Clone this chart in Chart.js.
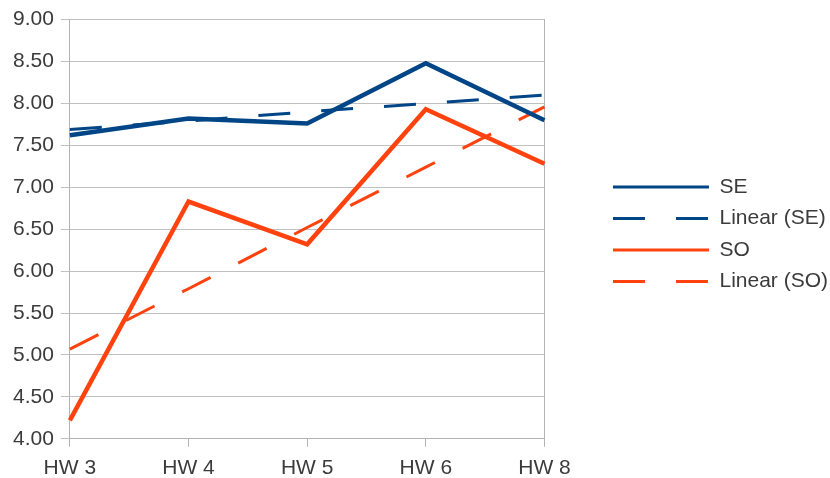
<!DOCTYPE html>
<html>
<head>
<meta charset="utf-8">
<script src="https://cdn.jsdelivr.net/npm/chart.js@4/dist/chart.umd.min.js"></script>
<style>
  html, body { margin: 0; padding: 0; background: #fff; }
  #wrap { width: 830px; height: 478px; }
</style>
</head>
<body>
<div id="wrap"><canvas id="hwChart"></canvas></div>
<script>
// Homework scores per assignment
const categories = ["HW 3", "HW 4", "HW 5", "HW 6", "HW 8"];
const seScores = [7.62, 7.82, 7.76, 8.48, 7.80];
const soScores = [4.22, 6.83, 6.32, 7.93, 7.28];
// Linear trend lines, one value per assignment
const seTrend = [7.69, 7.79, 7.90, 8.00, 8.10];
const soTrend = [5.07, 5.79, 6.52, 7.24, 7.96];
const yTicks = { min: 4, max: 9, step: 0.5 };

const blue = "#004586";
const orange = "#ff420e";
const gridGray = "#c0c0c0";
const axisGray = "#b3b3b3";
const textGray = "#3b3b3b";

Chart.defaults.font.family = "'Liberation Sans', Arial, sans-serif";
Chart.defaults.font.size = 21;
Chart.defaults.color = textGray;

// keep the legend centred on the plot area instead of the whole canvas
const legendAlign = {
  id: "legendAlign",
  afterLayout(chart) {
    const legend = chart.legend;
    if (!legend) return;
    legend.top = chart.chartArea.top;
    legend.bottom = chart.chartArea.bottom + 10;
  },
};

// legend samples take the dash pattern of their dataset line, all drawn 3px wide
function dashedLegendLabels(chart) {
  const items = Chart.defaults.plugins.legend.labels.generateLabels(chart);
  return items.map((item) => {
    const ds = chart.data.datasets[item.datasetIndex];
    item.lineDash = ds.borderDash || [];
    item.lineWidth = 3;
    return item;
  });
}

const ctx = document.getElementById("hwChart").getContext("2d");
new Chart(ctx, {
  type: "line",
  data: {
    labels: categories,
    datasets: [
      { label: "SE", data: seScores, borderColor: blue, borderWidth: 4.5 },
      { label: "Linear (SE)", data: seTrend, borderColor: blue, borderWidth: 3, borderDash: [32, 31] },
      { label: "SO", data: soScores, borderColor: orange, borderWidth: 4.5 },
      { label: "Linear (SO)", data: soTrend, borderColor: orange, borderWidth: 3, borderDash: [32, 31] },
    ],
  },
  options: {
    responsive: true,
    maintainAspectRatio: false,
    animation: false,
    elements: {
      point: { radius: 0, hoverRadius: 0 },
      line: { tension: 0, fill: false, borderCapStyle: "butt", borderJoinStyle: "miter" },
    },
    layout: { padding: { left: 6, top: 8, right: -8, bottom: -12 } },
    scales: {
      x: {
        offset: false,
        grid: { drawOnChartArea: false, drawTicks: true, tickLength: 8, color: axisGray },
        border: { display: true, color: axisGray },
        ticks: { padding: 9, maxRotation: 0, autoSkip: false },
      },
      y: {
        min: yTicks.min,
        max: yTicks.max,
        grid: { color: gridGray, tickLength: 9 },
        border: { display: true, color: axisGray },
        ticks: {
          stepSize: yTicks.step,
          padding: 7,
          callback: (value) => Number(value).toFixed(2),
        },
      },
      // right-hand frame line, also leaves room before the legend
      y2: {
        position: "right",
        min: yTicks.min,
        max: yTicks.max,
        grid: { drawOnChartArea: false, drawTicks: false },
        border: { display: true, color: axisGray },
        ticks: { display: false },
        afterFit: (scale) => { scale.width = 58; },
      },
    },
    plugins: {
      tooltip: { enabled: false },
      legend: {
        position: "right",
        align: "center",
        maxWidth: 300,
        labels: {
          usePointStyle: true,
          pointStyle: "line",
          pointStyleWidth: 96,
          boxHeight: 21,
          padding: 10.5,
          color: textGray,
          font: { size: 21 },
          generateLabels: dashedLegendLabels,
        },
      },
    },
  },
  plugins: [legendAlign],
});
</script>
</body>
</html>
